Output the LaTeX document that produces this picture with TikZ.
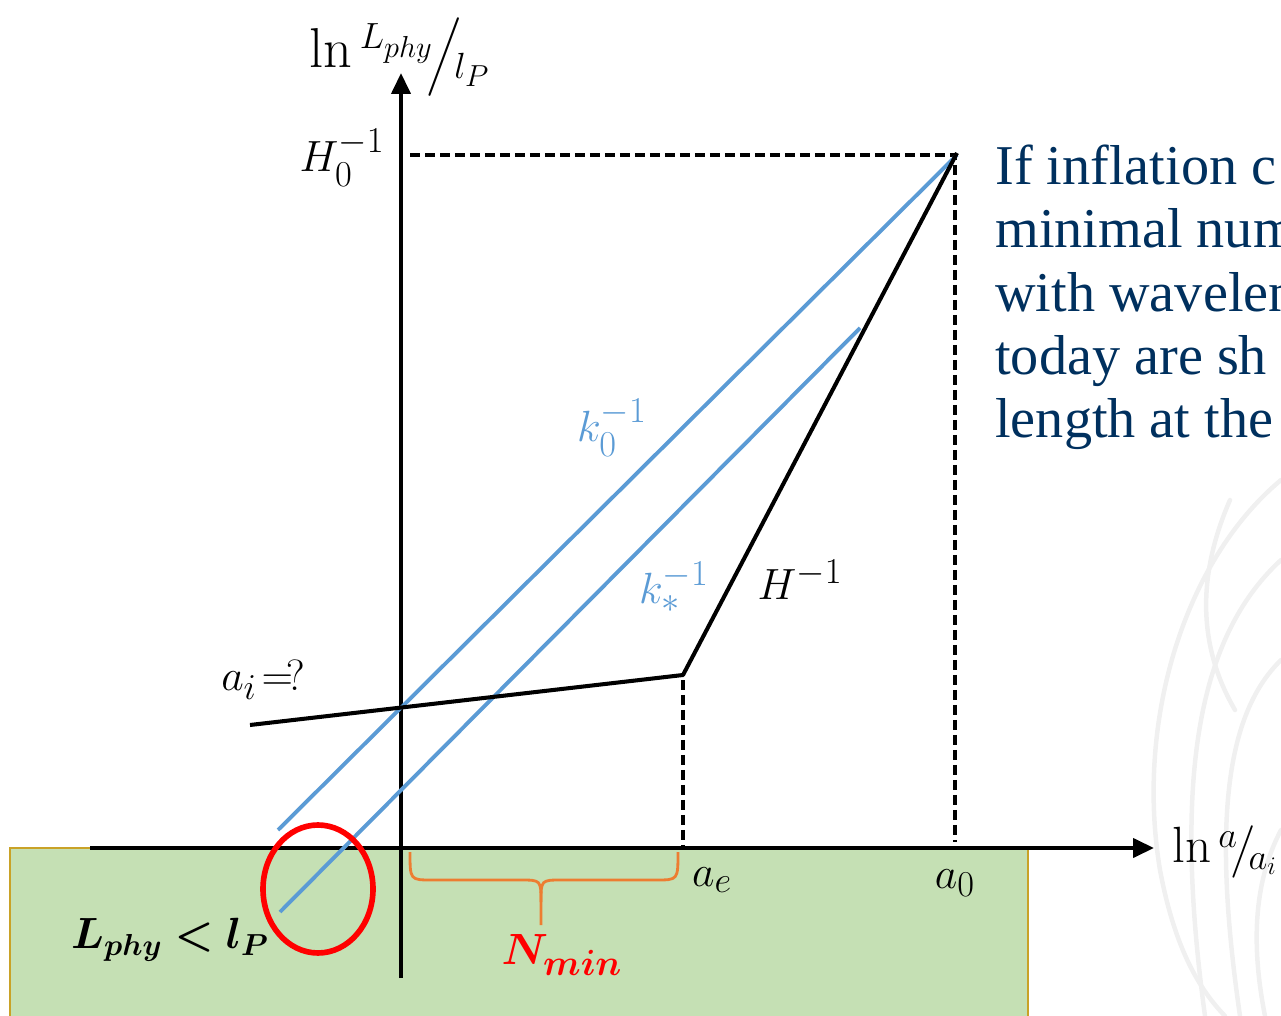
\documentclass[tikz,border=0pt]{standalone}
\usepackage{amsmath,bm}
\usepackage{fontspec}
\newfontfamily\slidefont{Liberation Serif}
\usetikzlibrary{arrows.meta}
\definecolor{kblue}{HTML}{5B9BD5}
\definecolor{kred}{HTML}{FF0000}
\definecolor{korange}{HTML}{ED7D31}
\definecolor{kgreen}{HTML}{C5E0B4}
\definecolor{kgold}{HTML}{C9A227}
\definecolor{knavy}{HTML}{00305E}
\definecolor{kwm}{HTML}{F0F0F0}
\tikzset{
  lab/.style={font=\fontsize{29}{34}\selectfont, inner sep=0pt},
  bluelab/.style={lab, text=kblue},
  axisline/.style={line width=2.3pt, -{Triangle[length=0.42cm,width=0.38cm]}},
  dashline/.style={line width=2.1pt, dash pattern=on 0.2cm off 0.1cm},
  blueline/.style={kblue, line width=2.2pt},
  hline/.style={black, line width=2.3pt, line join=round},
  wm/.style={kwm, line width=0.09cm, line cap=round},
  slidetext/.style={font=\slidefont\fontsize{32}{36}\selectfont, text=knavy, inner sep=0pt, anchor=base west}
}
\begin{document}
\begin{tikzpicture}[x=0.02cm,y=-0.02cm]
\useasboundingbox (0,0) rectangle (1281,1016);
\clip (0,0) rectangle (1281,1016);
% watermark
\draw[wm] (1281,480) .. controls (1185,560) and (1135,720) .. (1160,870) .. controls (1175,950) and (1200,990) .. (1225,1016);
\draw[wm] (1281,560) .. controls (1205,630) and (1170,760) .. (1205,1016);
\draw[wm] (1281,660) .. controls (1230,710) and (1210,810) .. (1240,1016);
\draw[wm] (1230,500) .. controls (1195,580) and (1200,650) .. (1235,710);
\draw[wm] (1281,830) .. controls (1252,885) and (1252,950) .. (1265,1016);
% coordinates
\coordinate (O) at (401,848);
\coordinate (xs) at (90,848);
\coordinate (xe) at (1154,848);
\coordinate (ys) at (401,978);
\coordinate (ye) at (401,73);
\coordinate (Ht) at (957,153);
\coordinate (Hl) at (250,725);
\coordinate (Ae) at (683,675);
\coordinate (d0) at (410,155);
\coordinate (d1) at (955,155);
\coordinate (d2) at (955,842);
\coordinate (e1) at (683,680);
\coordinate (e2) at (683,845);
\coordinate (k0a) at (278,830);
\coordinate (k0b) at (957,155);
\coordinate (ksa) at (280,912);
\coordinate (ksb) at (860,328);
\coordinate (ell) at (318,889);
% green region
\path[fill=kgreen, draw=kgold, line width=0.6pt] (10,848) rectangle (1028,1030);
% dashed guides
\draw[dashline] (d0) -- (d1) -- (d2);
\draw[dashline] (e1) -- (e2);
% axes
\draw[axisline] (xs) -- (xe);
\draw[axisline] (ys) -- (ye);
% blue lines
\draw[blueline] (k0a) -- (k0b);
\draw[blueline] (ksa) -- (ksb);
% Hubble radius
\draw[hline] (Hl) -- (Ae) -- (Ht);
% red ellipse
\draw[kred, line width=3.2pt] (ell) ellipse [x radius=55, y radius=64];
% brace
\draw[korange, line width=1.6pt] (410,852) .. controls (410,880) .. (432,880) -- (520,880) .. controls (541,880) .. (541,902) -- (541,925);
\draw[korange, line width=1.6pt] (678,852) .. controls (678,880) .. (656,880) -- (562,880) .. controls (541,880) .. (541,902);
% labels
\node[lab, font=\fontsize{32}{36}\selectfont] (ylab) at (400,57) {$\ln{}^{L_{phy}}\!\Big/\!{}_{l_P}$};
\node[lab] (xlab) at (1225,852) {$\ln{}^{a}\!\big/\!{}_{a_i}$};
\node[lab] (H0) at (342,158) {$H_0^{-1}$};
\node[lab] (ai) at (263,680) {$a_i\!=\!?$};
\node[bluelab] (k0) at (612,428) {$k_0^{-1}$};
\node[bluelab] (ks) at (674,587) {$k_*^{-1}$};
\node[lab] (Hinv) at (800,580) {$H^{-1}$};
\node[lab] (ae) at (712,880) {$a_e$};
\node[lab] (a0) at (955,883) {$a_0$};
\node[lab, text=kred] (Nmin) at (562,955) {$\bm{N_{min}}$};
\node[lab, font=\fontsize{27}{32}\selectfont] (Lphy) at (170,940) {$\bm{L_{phy} < l_P}$};
% slide text
\node[slidetext] (t1) at (995,185) {If inflation c};
\node[slidetext] (t2) at (995,248) {minimal num};
\node[slidetext] (t3) at (995,312) {with wavelen};
\node[slidetext] (t4) at (995,375) {today are sh};
\node[slidetext] (t5) at (995,438) {length at the};
\end{tikzpicture}
\end{document}
